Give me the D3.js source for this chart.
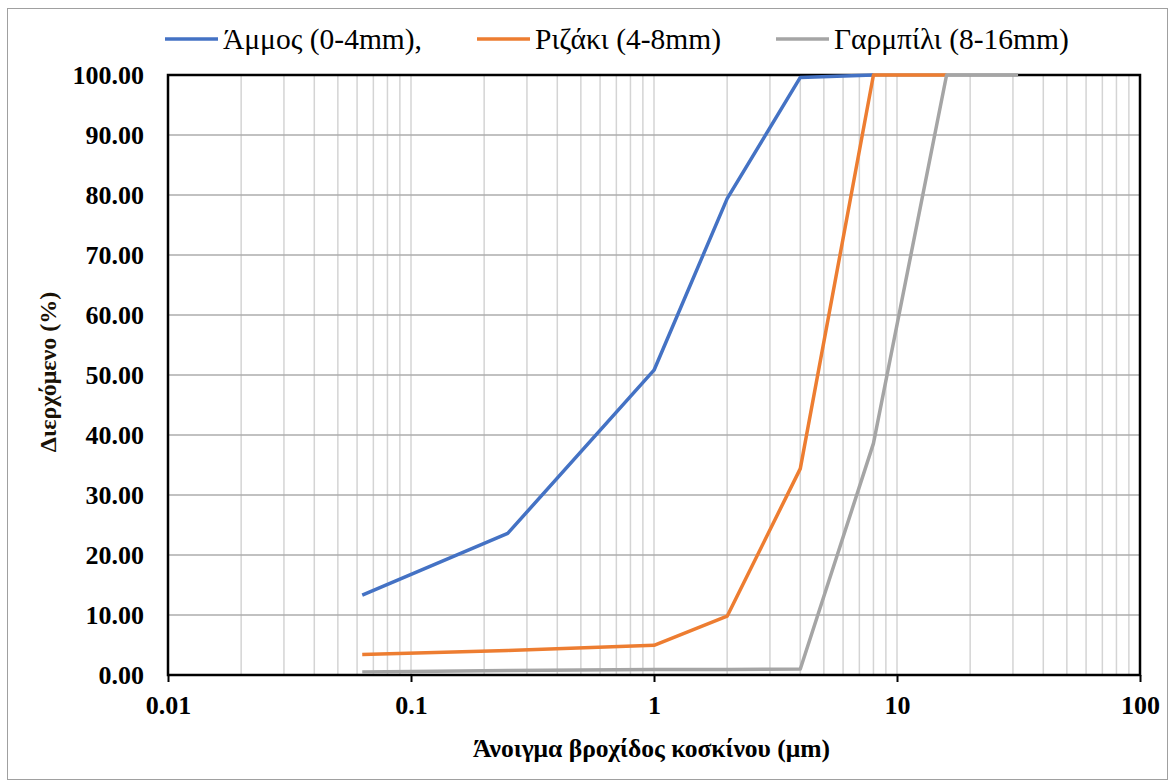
<!DOCTYPE html>
<html>
<head>
<meta charset="utf-8">
<script src="https://cdn.jsdelivr.net/npm/d3@7"></script>
<style>
  body { margin: 0; background: #fff; }
  svg text { font-family: "Liberation Serif", "Times New Roman", serif !important; }
</style>
</head>
<body>
<div id="chart"></div>
<script>
// sieve openings (mm) and passing percentages
const sizesAmmos = [0.063, 0.25, 1, 2, 4, 8]
const ammos = [13.3, 23.6, 50.8, 79.4, 99.6, 100]
const sizesRizaki = [0.063, 0.25, 1, 2, 4, 8, 16]
const rizaki = [3.4, 4.1, 4.95, 9.8, 34.4, 100, 100]
const sizesGarmpili = [0.063, 0.25, 1, 2, 4, 8, 16, 31.5]
const garmpili = [0.5, 0.75, 0.9, 0.9, 1.0, 38.6, 100, 100]

const seriesNames = ['Άμμος (0-4mm),', 'Ριζάκι (4-8mm)', 'Γαρμπίλι (8-16mm)']
const seriesColors = ['#4472C4', '#ED7D31', '#A5A5A5']
const xTicks = [0.01, 0.1, 1, 10, 100]
const yTicks = [0, 10, 20, 30, 40, 50, 60, 70, 80, 90, 100]

const width = 1171, height = 784
const margin = {top: 75, right: 31, bottom: 109, left: 168}
const serif = '"Liberation Serif", "Times New Roman", serif'

let svg = d3.select('#chart').append('svg')
    .attr('width', width)
    .attr('height', height)

// outer chart border
svg.append('rect')
    .attr('x', 7.5).attr('y', 8.5)
    .attr('width', 1160).attr('height', 771)
    .attr('fill', 'none')
    .attr('stroke', '#a0a0a0')
    .attr('stroke-width', 1)

let x = d3.scaleLog().domain([0.01, 100]).range([margin.left, width - margin.right])
let y = d3.scaleLinear().domain([0, 100]).range([height - margin.bottom, margin.top])

// vertical grid (minor + major)
let vLines = []
for (let e = -2; e < 2; e++) {
    for (let m = 1; m <= 9; m++) vLines.push(m * Math.pow(10, e))
}
vLines.push(100)
svg.append('g').selectAll('line').data(vLines).enter().append('line')
    .attr('x1', d => x(d)).attr('x2', d => x(d))
    .attr('y1', y(0)).attr('y2', y(100))
    .attr('stroke', '#d4d4d4')
    .attr('stroke-width', 1.5)

// horizontal grid
svg.append('g').selectAll('line').data(yTicks).enter().append('line')
    .attr('x1', x(0.01)).attr('x2', x(100))
    .attr('y1', d => y(d)).attr('y2', d => y(d))
    .attr('stroke', '#acacac')
    .attr('stroke-width', 1.5)

// frame
svg.append('rect')
    .attr('x', x(0.01)).attr('y', y(100))
    .attr('width', x(100) - x(0.01)).attr('height', y(0) - y(100))
    .attr('fill', 'none')
    .attr('stroke', '#000')
    .attr('stroke-width', 2.5)

// axes
let xAxis = svg.append('g')
    .attr('transform', `translate(0,${y(0)})`)
    .call(d3.axisBottom(x).tickValues(xTicks).tickSize(7).tickPadding(14)
        .tickFormat(d => String(d)))
xAxis.attr('font-family', serif)
xAxis.select('.domain').remove()
xAxis.selectAll('line').attr('stroke', '#000').attr('stroke-width', 2)
xAxis.selectAll('text')
    .attr('font-size', 26).attr('font-weight', 'bold').attr('fill', '#000')

let yAxis = svg.append('g')
    .attr('transform', `translate(${x(0.01)},0)`)
    .call(d3.axisLeft(y).tickValues(yTicks).tickSize(0).tickPadding(24)
        .tickFormat(d3.format('.2f')))
yAxis.attr('font-family', serif)
yAxis.select('.domain').remove()
yAxis.selectAll('text')
    .attr('font-size', 26).attr('font-weight', 'bold').attr('fill', '#000')

// axis titles
svg.append('text')
    .attr('x', (473 + 830) / 2).attr('y', 757)
    .attr('text-anchor', 'middle')
    .attr('font-family', serif)
    .attr('font-size', 26).attr('font-weight', 'bold')
    .attr('textLength', 357).attr('lengthAdjust', 'spacingAndGlyphs')
    .text('Άνοιγμα βροχίδος κοσκίνου (μm)')

svg.append('text')
    .attr('transform', `translate(56,372) rotate(-90)`)
    .attr('text-anchor', 'middle')
    .attr('font-family', serif)
    .attr('font-size', 24).attr('font-weight', 'bold')
    .attr('fill', '#1a1206')
    .text('Διερχόμενο (%)')

// series lines
let line = d3.line().x(d => x(d[0])).y(d => y(d[1]))
let series = [
    d3.zip(sizesAmmos, ammos),
    d3.zip(sizesRizaki, rizaki),
    d3.zip(sizesGarmpili, garmpili)
]
svg.append('g').selectAll('path').data(series).enter().append('path')
    .attr('d', line)
    .attr('fill', 'none')
    .attr('stroke', (d, i) => seriesColors[i])
    .attr('stroke-width', 3.5)
    .attr('stroke-linejoin', 'round')

// legend
let legendX = [165, 477, 776]
let legend = svg.append('g').selectAll('g').data(seriesNames).enter().append('g')
    .attr('transform', (d, i) => `translate(${legendX[i]},39)`)
legend.append('line')
    .attr('x1', 0).attr('x2', 53)
    .attr('stroke', (d, i) => seriesColors[i])
    .attr('stroke-width', 3.5)
legend.append('text')
    .attr('x', 58).attr('y', 10)
    .attr('font-family', serif)
    .attr('font-size', 29.5)
    .text(d => d)
</script>
</body>
</html>
